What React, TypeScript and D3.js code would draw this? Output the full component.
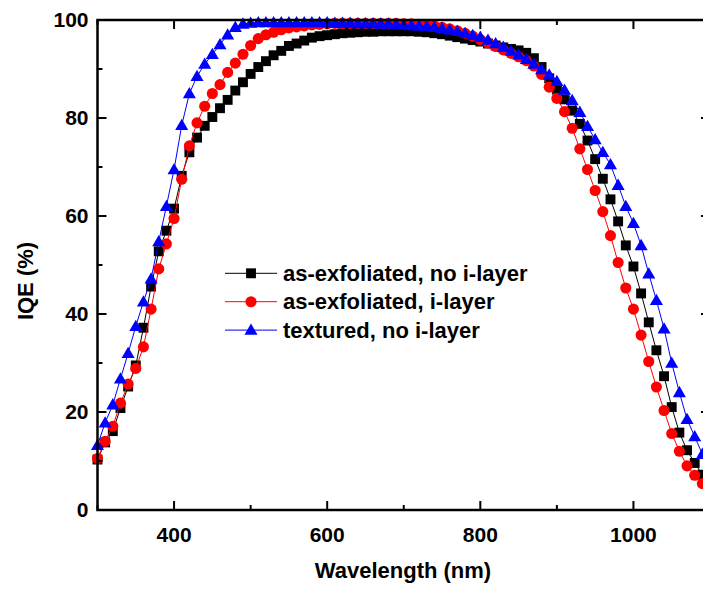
import React from "react";
import * as d3 from "d3";

const wavelengths: number[] = d3.range(300, 1101, 10);

const blackSeries: number[] = [
  10.3, 13.8, 16.1, 20.8, 25.2, 29.5, 37.2, 45.6, 52.8, 57.0,
  61.5, 68.2, 73.0, 76.0, 78.4, 80.2, 82.0, 83.7, 85.6, 87.3,
  89.0, 90.4, 91.6, 92.8, 93.7, 94.7, 95.2, 95.8, 96.4, 96.7,
  96.9, 97.1, 97.3, 97.4, 97.5, 97.6, 97.6, 97.7, 97.7, 97.7,
  97.7, 97.7, 97.6, 97.5, 97.3, 97.1, 96.8, 96.5, 96.2, 95.9,
  95.6, 95.2, 94.8, 94.4, 94.1, 93.8, 93.3, 92.2, 90.4, 88.1,
  85.8, 83.8, 81.5, 78.8, 75.4, 71.6, 67.6, 63.4, 58.9, 54.0,
  49.7, 44.2, 38.3, 32.6, 27.3, 21.0, 15.8, 12.2, 9.6, 7.2, 5.5,
];

const redSeries: number[] = [
  10.5, 14.0, 17.1, 21.8, 25.7, 28.9, 33.3, 41.0, 49.2, 54.3,
  59.5, 67.5, 74.3, 79.0, 82.4, 85.0, 86.8, 89.3, 91.2, 93.0,
  94.8, 96.2, 97.0, 97.5, 98.0, 98.4, 98.6, 98.8, 99.0, 99.1,
  99.2, 99.3, 99.3, 99.3, 99.3, 99.3, 99.3, 99.3, 99.3, 99.3,
  99.2, 99.2, 99.1, 99.0, 98.8, 98.5, 98.2, 97.8, 97.3, 96.7,
  96.0, 95.3, 94.6, 93.9, 93.2, 92.5, 91.7, 90.6, 88.9, 86.3,
  84.0, 81.3, 77.9, 73.7, 69.5, 65.2, 60.9, 56.0, 50.5, 45.3,
  41.0, 35.7, 30.3, 25.1, 20.3, 15.6, 12.0, 9.0, 7.1, 5.4, 4.5,
];

const blueSeries: number[] = [
  13.2, 17.8, 21.5, 26.8, 32.0, 37.5, 42.5, 47.2, 54.8, 62.0,
  69.5, 78.5, 85.0, 88.5, 91.0, 93.0, 95.0, 97.0, 98.5, 99.2,
  99.4, 99.5, 99.5, 99.5, 99.5, 99.5, 99.5, 99.5, 99.5, 99.5,
  99.5, 99.4, 99.4, 99.4, 99.3, 99.3, 99.3, 99.2, 99.2, 99.1,
  99.0, 98.9, 98.8, 98.7, 98.5, 98.3, 98.0, 97.7, 97.3, 96.9,
  96.5, 95.9, 95.2, 94.5, 93.7, 92.9, 92.0, 91.0, 89.9, 88.8,
  87.5, 85.7, 83.6, 81.2, 78.3, 75.6, 73.0, 70.5, 66.3, 62.0,
  58.5, 54.0, 48.2, 42.8, 37.0, 30.0, 24.0, 18.5, 15.0, 11.4, 9.0,
];

const seriesNames: string[] = [
  "as-exfoliated, no i-layer",
  "as-exfoliated, i-layer",
  "textured, no i-layer",
];
const seriesColors: string[] = ["#000000", "#ff0000", "#0000ff"];

const xMajorTicks: number[] = [400, 600, 800, 1000];
const xMinorTicks: number[] = [300, 500, 700, 900, 1100];
const yMajorTicks: number[] = [0, 20, 40, 60, 80, 100];
const yMinorTicks: number[] = [10, 30, 50, 70, 90];

const xLabel = "Wavelength (nm)";
const yLabel = "IQE (%)";

const W = 703;
const H = 590;
const L = 97.5;
const R = 710;
const T = 20;
const B = 510;
const FONT = "'Liberation Sans', Arial, Helvetica, sans-serif";

export default function App() {
  const x = d3.scaleLinear().domain([300, 1100]).range([L, R]);
  const y = d3.scaleLinear().domain([0, 100]).range([B, T]);

  const allSeries = [blackSeries, redSeries, blueSeries];
  const symbols = [d3.symbolSquare, d3.symbolCircle, d3.symbolTriangle];
  const sizes = [98, 97, 74];

  const line = d3
    .line<number>()
    .x((_, i) => x(wavelengths[i]))
    .y((v) => y(v));

  const majorLen = 9;
  const minorLen = 5;

  return (
    <svg
      width={W}
      height={H}
      style={{ position: "absolute", left: 0, top: 0, background: "#fff" }}
      fontFamily={FONT}
    >
      <rect x={0} y={0} width={W} height={H} fill="#fff" />
      {allSeries.map((s, si) => (
        <g key={si}>
          <path d={line(s) || ""} fill="none" stroke={seriesColors[si]} strokeWidth={1} />
          {s.map((v, i) => {
            const sym = d3.symbol().type(symbols[si]).size(sizes[si]);
            const dy = si === 2 ? 1 : 0;
            return (
              <path
                key={i}
                d={sym() || ""}
                transform={`translate(${x(wavelengths[i])},${y(v) + dy})`}
                fill={seriesColors[si]}
              />
            );
          })}
        </g>
      ))}

      {/* frame */}
      <rect x={L} y={T} width={R - L} height={B - T} fill="none" stroke="#000" strokeWidth={2.5} />

      {/* x ticks */}
      {xMajorTicks.map((t) => (
        <g key={"xm" + t}>
          <line x1={x(t)} x2={x(t)} y1={B} y2={B - majorLen} stroke="#000" strokeWidth={2} />
          <line x1={x(t)} x2={x(t)} y1={T} y2={T + majorLen} stroke="#000" strokeWidth={2} />
          <text x={x(t)} y={541.5} textAnchor="middle" fontSize={21} fontWeight="bold">
            {t}
          </text>
        </g>
      ))}
      {xMinorTicks.map((t) => (
        <g key={"xn" + t}>
          <line x1={x(t)} x2={x(t)} y1={B} y2={B - minorLen} stroke="#000" strokeWidth={2} />
          <line x1={x(t)} x2={x(t)} y1={T} y2={T + minorLen} stroke="#000" strokeWidth={2} />
        </g>
      ))}
      {/* y ticks */}
      {yMajorTicks.map((t) => (
        <g key={"ym" + t}>
          <line x1={L} x2={L + majorLen} y1={y(t)} y2={y(t)} stroke="#000" strokeWidth={2} />
          <line x1={R} x2={R - majorLen} y1={y(t)} y2={y(t)} stroke="#000" strokeWidth={2} />
          <text x={88.5} y={y(t) + 7.2} textAnchor="end" fontSize={21} fontWeight="bold">
            {t}
          </text>
        </g>
      ))}
      {yMinorTicks.map((t) => (
        <g key={"yn" + t}>
          <line x1={L} x2={L + minorLen} y1={y(t)} y2={y(t)} stroke="#000" strokeWidth={2} />
          <line x1={R} x2={R - minorLen} y1={y(t)} y2={y(t)} stroke="#000" strokeWidth={2} />
        </g>
      ))}

      {/* axis titles */}
      <text x={403} y={578} textAnchor="middle" fontSize={22} fontWeight="bold">
        {xLabel}
      </text>
      <text
        transform={`translate(33,281) rotate(-90)`}
        textAnchor="middle"
        fontSize={22}
        fontWeight="bold"
      >
        {yLabel}
      </text>

      {/* legend */}
      {seriesNames.map((name, i) => {
        const ly = 273.3 + i * 28.4;
        const sym = d3.symbol().type(symbols[i]).size(sizes[i]);
        return (
          <g key={"lg" + i}>
            <line x1={225} x2={277} y1={ly} y2={ly} stroke={seriesColors[i]} strokeWidth={1} />
            <path d={sym() || ""} transform={`translate(251,${ly + (i === 2 ? 1 : 0)})`} fill={seriesColors[i]} />
            <text x={283} y={ly + 7.5} fontSize={22} fontWeight="bold">
              {name}
            </text>
          </g>
        );
      })}
    </svg>
  );
}
